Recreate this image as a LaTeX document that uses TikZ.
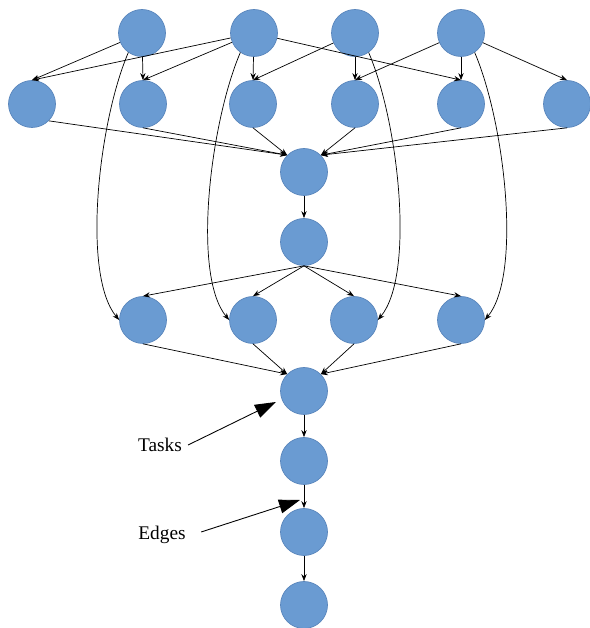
\documentclass[tikz,border=0pt]{standalone}
\usepackage{fontspec}
\setmainfont{Liberation Serif}
\usetikzlibrary{arrows.meta}
\definecolor{taskfill}{HTML}{6A9BD2}
\definecolor{taskline}{HTML}{5A86BC}
\tikzset{>={Stealth[length=4pt,width=3pt]},line width=.45pt,
  every node/.style={font=\fontsize{11}{13}\selectfont},
  task/.style={circle,fill=taskfill,draw=taskline,line width=.4pt,minimum size=.94cm,inner sep=0pt},
  dep/.style={->,draw=black},
  pointer/.style={-{Triangle[length=.42cm,width=.28cm]},draw=black,line width=.5pt}}

\begin{document}
\begin{tikzpicture}
\useasboundingbox (0,0) rectangle (11.78,12.56);
% top row and second row
\node[task] (src1) at (2.84,11.90) {};\node[task] (src2) at (5.08,11.90) {};
\node[task] (src3) at (7.10,11.90) {};\node[task] (src4) at (9.22,11.90) {};
\foreach \x [count=\i] in {0.64,2.86,5.06,7.10,9.22,11.34}
  \node[task] (lay\i) at (\x,10.48) {};
\node[task] (merge1) at (6.08,9.12) {};\node[task] (split) at (6.08,7.72) {};
\foreach \x [count=\i] in {2.86,5.06,7.08,9.22}
  \node[task] (par\i) at (\x,6.16) {};
\node[task] (merge2) at (6.08,4.74) {};\node[task] (chain1) at (6.08,3.34) {};
\node[task] (chain2) at (6.08,1.92) {};\node[task] (sink) at (6.08,0.46) {};
% edges between the layers
\draw[dep] (src1)--(lay1.north);\draw[dep] (src1)--(lay2.north);
\draw[dep] (src2)--(lay1.north);\draw[dep] (src2)--(lay2.north);\draw[dep] (src2)--(lay3.north);\draw[dep] (src2)--(lay5.north);
\draw[dep] (src3)--(lay3.north);\draw[dep] (src3)--(lay4.north);
\draw[dep] (src4)--(lay4.north);\draw[dep] (src4)--(lay5.north);\draw[dep] (src4)--(lay6.north);
\draw[dep] (src1.235) .. controls +(-0.6,-1.4) and +(-0.75,0.9) .. (par1.west);
\draw[dep] (src2.235) .. controls +(-0.6,-1.4) and +(-0.75,0.9) .. (par2.west);
\draw[dep] (src3.-55) .. controls +(0.6,-1.4) and +(0.75,0.9) .. (par3.east);
\draw[dep] (src4.-55) .. controls +(0.6,-1.4) and +(0.75,0.9) .. (par4.east);
\draw[dep] (lay1.-45)--(merge1.north west);
\foreach \i in {2,3} \draw[dep] (lay\i.south)--(merge1.north west);
\foreach \i in {4,5,6} \draw[dep] (lay\i.south)--(merge1.north east);
\draw[dep] (merge1)--(split);
\foreach \i in {1,...,4} \draw[dep] (split.south)--(par\i.north);
\foreach \i in {1,2} \draw[dep] (par\i.south)--(merge2.north west);
\foreach \i in {3,4} \draw[dep] (par\i.south)--(merge2.north east);
\draw[dep] (merge2)--(chain1);\draw[dep] (chain1)--(chain2);\draw[dep] (chain2)--(sink);
% annotations
\node (tasks) at (3.20,3.66) {Tasks};\node (edges) at (3.24,1.86) {Edges};
\coordinate (taskpt) at (5.52,4.52);\coordinate (edgept) at (6.00,2.56);
\draw[pointer] (tasks.east)--(taskpt);
\draw[pointer,shorten <=.2cm] (edges.east)--(edgept);
\end{tikzpicture}
\end{document}
